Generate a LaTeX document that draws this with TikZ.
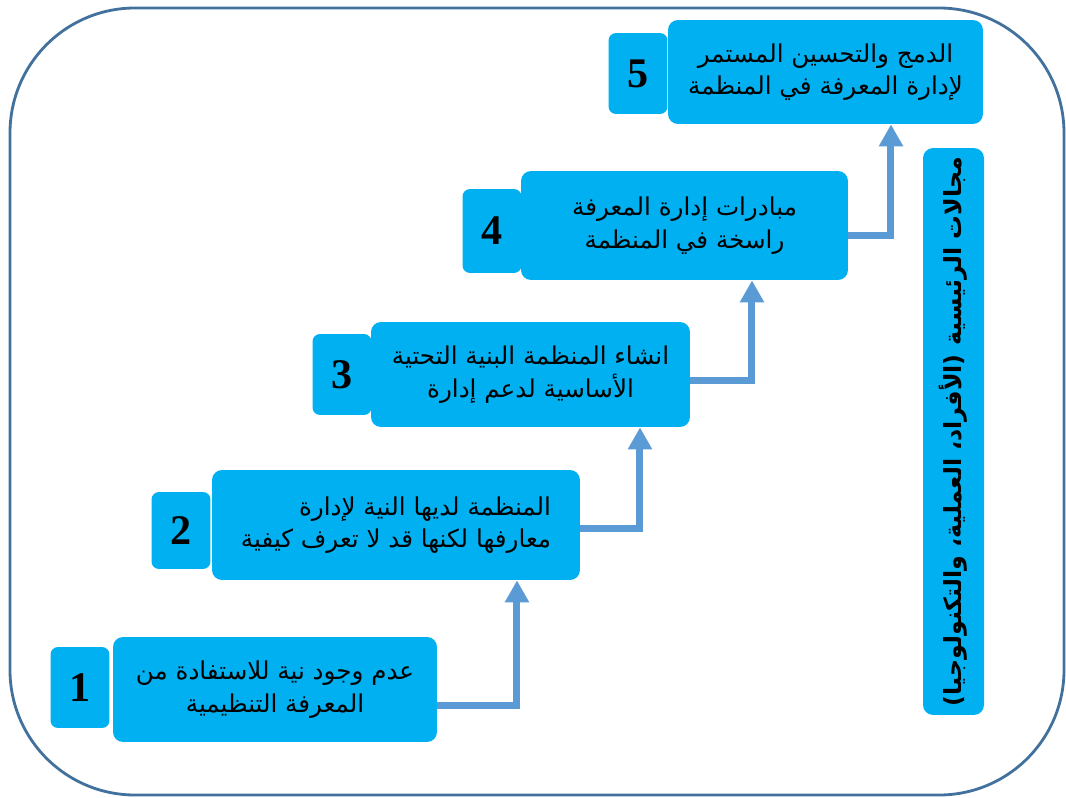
\documentclass[tikz,border=0pt]{standalone}
\usepackage{fontspec}
\usepackage{tikz}
\usetikzlibrary{arrows.meta}
\TeXXeTstate=1
\newfontfamily\arabicfont[Script=Arabic]{DejaVu Sans}
\newfontfamily\numfont{Liberation Serif}
\definecolor{boxblue}{RGB}{0,176,240}
\definecolor{arrowblue}{RGB}{91,155,213}
\definecolor{frameblue}{RGB}{65,113,156}

\begin{document}
\begin{tikzpicture}[x=0.02cm,y=-0.02cm]
\tikzset{>={Triangle[width=4.6mm,length=4.4mm]}}
\tikzstyle{numbox}=[rectangle,rounded corners=1.5mm,fill=boxblue,inner sep=0pt,minimum width=1.18cm,minimum height=1.62cm,font=\numfont\bfseries\fontsize{24}{24}\selectfont]
\tikzstyle{txtbox}=[rectangle,rounded corners=2mm,fill=boxblue,inner sep=0pt,align=center,minimum width=6.4cm,minimum height=2.1cm,font=\arabicfont\fontsize{14}{18.5}\selectfont]
\tikzstyle{flow}=[->,draw=arrowblue,line width=1.4mm]

\useasboundingbox (0,0) rectangle (1066,798);
\draw[frameblue,line width=1.6pt,rounded corners=2.5cm] (10,8) rectangle (1064,795);

% steps
\node[numbox](n1) at (80,687.5){1};
\node[txtbox,minimum width=6.48cm](t1) at (275,689.5){\beginR عدم وجود نية للاستفادة من\endR\\\beginR المعرفة التنظيمية\endR};

\node[numbox,minimum height=1.54cm](n2) at (181,530.5){2};
\node[txtbox,minimum width=7.36cm,minimum height=2.2cm,align=right](t2) at (396,525){\beginR المنظمة لديها النية لإدارة\endR\\\beginR معارفها لكنها قد لا تعرف كيفية\endR};

\node[numbox](n3) at (342,374.5){3};
\node[txtbox,minimum width=6.38cm](t3) at (530.5,374.5){\beginR انشاء المنظمة البنية التحتية\endR\\\beginR الأساسية لدعم إدارة\endR};

\node[numbox,minimum height=1.68cm](n4) at (492,231){4};
\node[txtbox,minimum width=6.54cm,minimum height=2.18cm](t4) at (684.5,225.5){\beginR مبادرات إدارة المعرفة\endR\\\beginR راسخة في المنظمة\endR};

\node[numbox](n5) at (638,73.5){5};
\node[txtbox,minimum width=6.3cm,minimum height=2.08cm](t5) at (825.5,72){\beginR الدمج والتحسين المستمر\endR\\\beginR لإدارة المعرفة في المنظمة\endR};

% side bar
\node[txtbox,rotate=90,minimum width=11.34cm,minimum height=1.22cm,font=\arabicfont\bfseries\fontsize{13.5}{16}\selectfont](side) at (953.5,431.5){\beginR مجالات الرئيسية (الأفراد، العملية، والتكنولوجيا)\endR};

% links
\draw[flow] ([yshift=-0.31cm]t1.east) -| ([xshift=2.42cm]t2.south);
\draw[flow] ([yshift=-0.06cm]t2.east) -| ([xshift=2.19cm]t3.south);
\draw[flow] ([yshift=-0.11cm]t3.east) -| ([xshift=1.35cm]t4.south);
\draw[flow] ([yshift=-0.19cm]t4.east) -| ([xshift=1.31cm]t5.south);
\end{tikzpicture}
\end{document}
